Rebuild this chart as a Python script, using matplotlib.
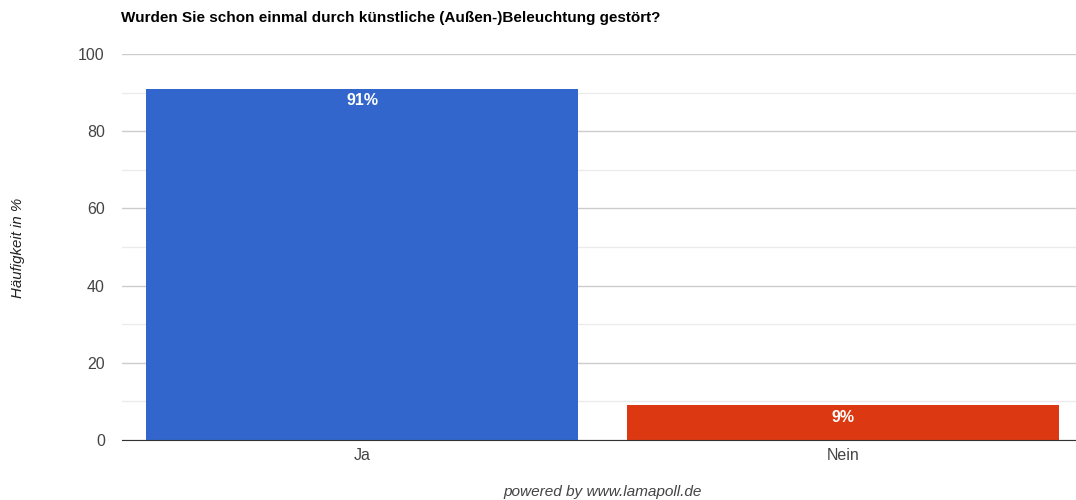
from matplotlib import pyplot as plt
import numpy as np

categories = ["Ja", "Nein"]
values = [91, 9]
labels = ["91%", "9%"]
colors = ["#3366cc", "#dc3912"]

plt.rcParams['font.family'] = ['Liberation Sans', 'DejaVu Sans']

fig = plt.figure(figsize=(10.76, 5), dpi=100)
ax = fig.add_axes([121.5 / 1076, 0.12, 1 - 121.5 / 1076, 0.772])

x = np.arange(len(categories))
bars = ax.bar(x, values, width=0.898, color=colors, zorder=3)
for b, lab in zip(bars, labels):
    ax.text(b.get_x() + b.get_width() / 2, b.get_height() - 1.2, lab,
            ha="center", va="top", color="white", fontsize=11.5, fontweight="bold", zorder=4)

ax.set_xlim(-0.5, 1.484)
ax.set_ylim(0, 100)
ax.set_yticks(np.arange(0, 101, 20))
ax.set_yticks(np.arange(10, 100, 20), minor=True)
ax.grid(axis="y", which="major", color="#cccccc", linewidth=1, zorder=0)
ax.grid(axis="y", which="minor", color="#ebebeb", linewidth=1, zorder=0)
ax.set_xticks(x)
ax.set_xticklabels(categories)
ax.tick_params(axis="both", which="both", length=0, labelsize=11.5, labelcolor="#444444")
ax.tick_params(axis="y", pad=12)
ax.tick_params(axis="x", pad=6)
for s in ["top", "right", "left"]:
    ax.spines[s].set_visible(False)
ax.spines["bottom"].set_color("#333333")
ax.spines["bottom"].set_zorder(5)

fig.text(121 / 1076, 1 - 18 / 500, "Wurden Sie schon einmal durch künstliche (Außen-)Beleuchtung gestört?",
         ha="left", va="center", fontsize=11, fontweight="bold", color="#000000")
fig.text(18 / 1076, 1 - 248 / 500, "Häufigkeit in %", rotation=90, ha="center", va="center",
         fontsize=10.8, style="italic", color="#222222")
fig.text(603 / 1076, 1 - 492 / 500, "powered by www.lamapoll.de", ha="center", va="center",
         fontsize=11.1, style="italic", color="#444444")

plt.savefig("out.png", dpi=100)
